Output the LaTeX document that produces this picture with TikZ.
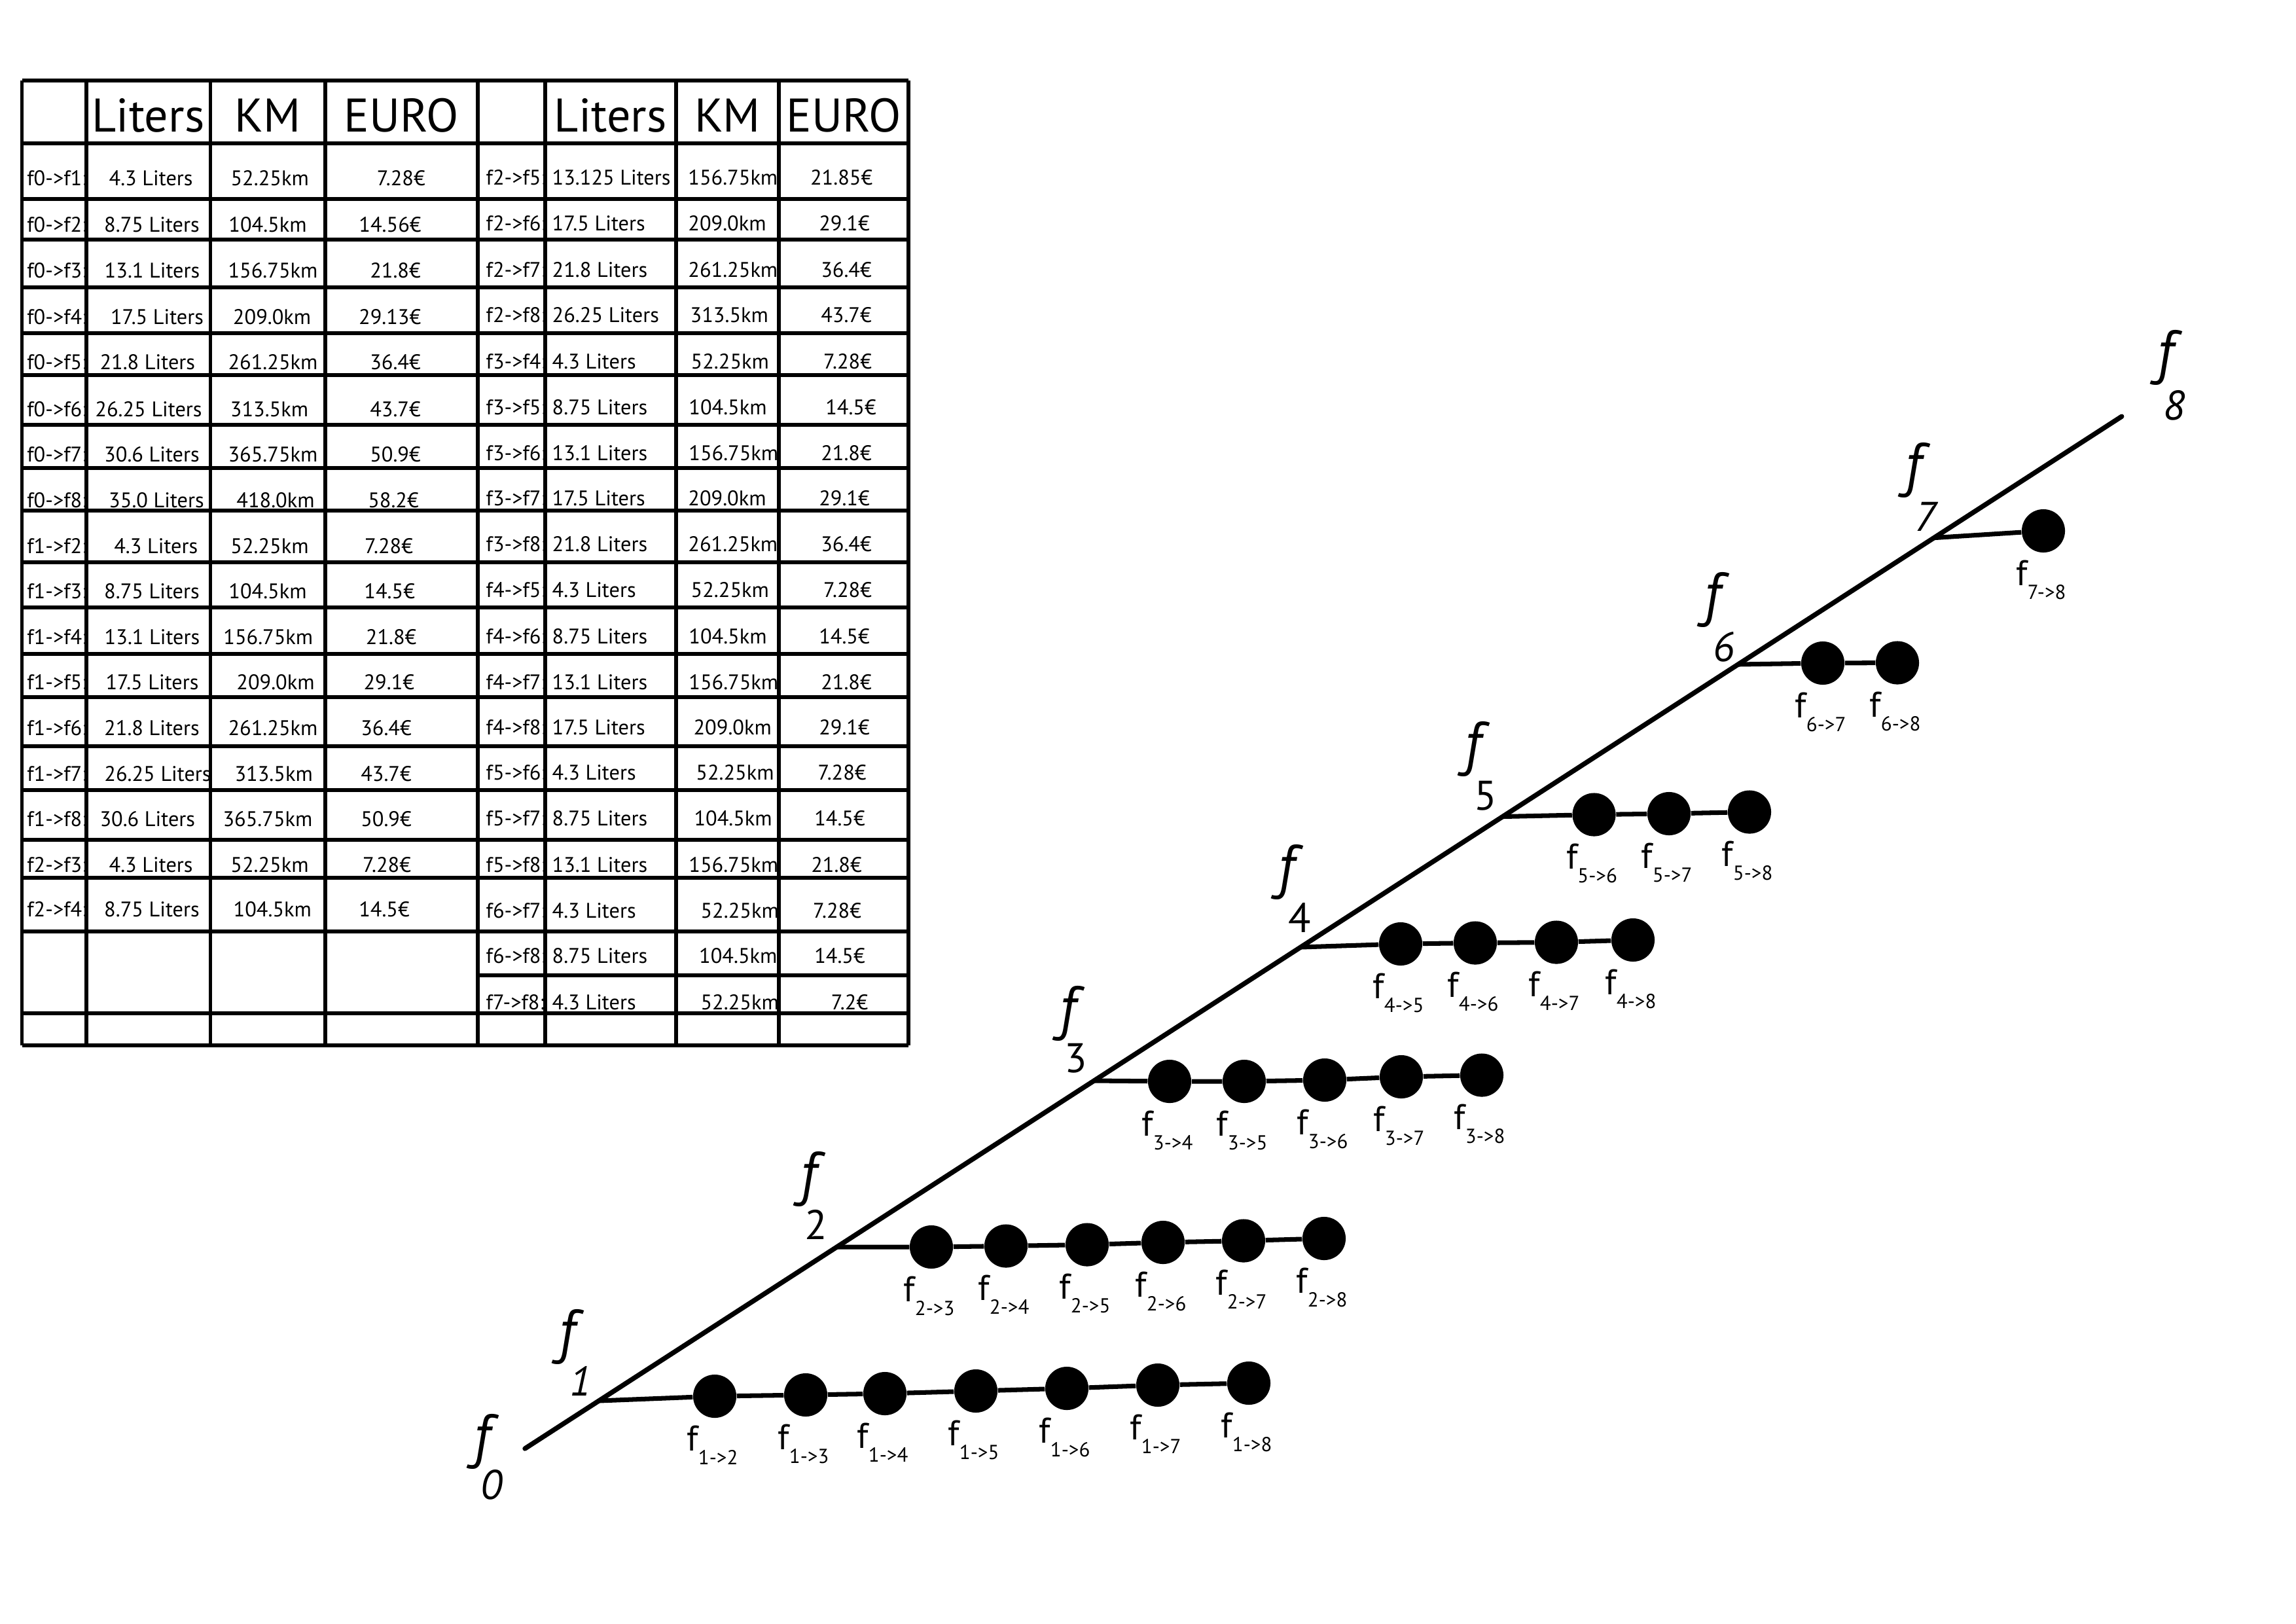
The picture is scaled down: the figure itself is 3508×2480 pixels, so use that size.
\documentclass[tikz,border=0pt]{standalone}
\usepackage{fontspec}
\setmainfont{PT Sans}
\tikzset{
  tline/.style={line width=1.7pt},
  mainline/.style={line width=2.1pt, line cap=round},
  branch/.style={line width=2pt},
  dot/.style={circle, fill=black, inner sep=0pt, minimum size=18.8pt},
  cellc/.style={anchor=base, inner sep=0pt, font=\fontsize{9.2}{9.2}\selectfont},
  celll/.style={anchor=base west, inner sep=0pt, font=\fontsize{9.2}{9.2}\selectfont},
  head/.style={anchor=base, inner sep=0pt, font=\fontsize{20.5}{20.5}\selectfont},
  sublab/.style={anchor=north, inner sep=0pt, font=\fontsize{15.5}{15.5}\selectfont},
  bigf/.style={anchor=north, text depth=0pt, inner sep=0pt, font=\fontsize{26}{26}\selectfont\itshape},
  bigsub/.style={anchor=north, inner sep=0pt, font=\fontsize{18}{18}\selectfont},
}
\newcommand\subx[1]{\raisebox{-6pt}{\fontsize{8.8}{8.8}\selectfont #1}}
\begin{document}
\begin{tikzpicture}[x=0.01cm, y=-0.01cm]
\useasboundingbox (0,0) rectangle (3508,2480);
% ---------- table headers ----------
\node[head] (h1) at (226.5,201) {Liters};
\node[head] (h2) at (409,201) {KM};
\node[head] (h3) at (613,201) {EURO};
\node[head] (h4) at (932.7,201) {Liters};
\node[head] (h5) at (1111.5,201) {KM};
\node[head] (h6) at (1289,201) {EURO};
% ---------- left half rows ----------
\foreach \n/\lab/\lit/\lx/\km/\kx/\eu/\ex/\by in {
 1/f0->f1/4.3 Liters/230.6/52.25km/412.2/7.28€/612.7/283.7,
 2/f0->f2/8.75 Liters/232/104.5km/409/14.56€/596/354,
 3/f0->f3/13.1 Liters/232.5/156.75km/417/21.8€/604/424,
 4/f0->f4/17.5 Liters/240/209.0km/415.6/29.13€/595.7/495.6,
 5/f0->f5/21.8 Liters/225.3/261.25km/417/36.4€/604/564,
 6/f0->f6/26.25 Liters/227/313.5km/411.5/43.7€/604/636,
 7/f0->f7/30.6 Liters/232/365.75km/417/50.9€/604/705,
 8/f0->f8/35.0 Liters/239/418.0km/421/58.2€/601/775,
 9/f1->f2/4.3 Liters/238.3/52.25km/412/7.28€/594/845,
 10/f1->f3/8.75 Liters/232/104.5km/409/14.5€/595.2/914.8,
 11/f1->f4/13.1 Liters/232.5/156.75km/409.8/21.8€/597.6/984,
 12/f1->f5/17.5 Liters/232.5/209.0km/421/29.1€/594.3/1053,
 13/f1->f6/21.8 Liters/232/261.25km/417/36.4€/590/1123,
 14/f1->f7/26.25 Liters/241/313.5km/418.2/43.7€/590/1193,
 15/f1->f8/30.6 Liters/225.3/365.75km/409/50.9€/590/1262,
 16/f2->f3/4.3 Liters/230.6/52.25km/412/7.28€/591/1332,
 17/f2->f4/8.75 Liters/232/104.5km/416.3/14.5€/587/1400.6}
{
  \node[celll] (la\n) at (40.7,\by) {\lab:};
  \node[cellc] (lb\n) at (\lx,\by) {\lit};
  \node[cellc] (lc\n) at (\kx,\by) {\km};
  \node[cellc] (ld\n) at (\ex,\by) {\eu};
}
% ---------- right half rows ----------
\foreach \n/\lab/\lit/\km/\kx/\eu/\ex/\by in {
 1/f2->f5/13.125 Liters/156.75km/1050.7/21.85€/1285.6/282.6,
 2/f2->f6/17.5 Liters/209.0km/1050.7/29.1€/1290/352.6,
 3/f2->f7/21.8 Liters/261.25km/1050.7/36.4€/1293/423,
 4/f2->f8/26.25 Liters/313.5km/1054/43.7€/1293/492.9,
 5/f3->f4/4.3 Liters/52.25km/1055/7.28€/1295/563,
 6/f3->f5/8.75 Liters/104.5km/1051.7/14.5€/1300/633,
 7/f3->f6/13.1 Liters/156.75km/1051.7/21.8€/1293/703,
 8/f3->f7/17.5 Liters/209.0km/1050.7/29.1€/1290/772.4,
 9/f3->f8/21.8 Liters/261.25km/1050.7/36.4€/1293/842,
 10/f4->f5/4.3 Liters/52.25km/1055/7.28€/1295/912.8,
 11/f4->f6/8.75 Liters/104.5km/1051.7/14.5€/1290/983.7,
 12/f4->f7/13.1 Liters/156.75km/1051.7/21.8€/1293/1053,
 13/f4->f8/17.5 Liters/209.0km/1058.9/29.1€/1290/1122,
 14/f5->f6/4.3 Liters/52.25km/1062.7/7.28€/1286.6/1191.8,
 15/f5->f7/8.75 Liters/104.5km/1059.8/14.5€/1283/1261.7,
 16/f5->f8/13.1 Liters/156.75km/1051.7/21.8€/1278/1332,
 17/f6->f7/4.3 Liters/52.25km/1069.9/7.28€/1279/1402.6,
 18/f6->f8/8.75 Liters/104.5km/1067.5/14.5€/1283/1471.4,
 19/f7->f8/4.3 Liters/52.25km/1069.9/7.2€/1298/1542}
{
  \node[celll] (ra\n) at (742,\by) {\lab:};
  \node[celll] (rb\n) at (843,\by) {\lit};
  \node[celll] (rc\n) at (\kx,\by) {\km};
  \node[cellc] (rd\n) at (\ex,\by) {\eu};
}
% ---------- table grid ----------
\foreach \x in {33.5,131.6,321.5,496.7,729.7,833,1032.5,1190.4,1387.6}
  \draw[tline] (\x,122.8) -- (\x,1596.5);
\foreach \y in {122.8,218.9,303.9,365.7,438.5,508.9,573.2,649.1,714.9,779.7,859.1,928.4,999.3,1065.1,1140,1206.8,1282.7,1340.9,1423.4,1548.4,1596.5}
  \draw[tline] (33.5,\y) -- (1387.6,\y);
\draw[tline] (729.7,1490.2) -- (1387.6,1490.2);
% ---------- main line ----------
\coordinate (s) at (802,2213);
\coordinate (e) at (3241.7,636.2);
\coordinate (j1) at (915,2140);
\coordinate (j2) at (1279,1905);
\coordinate (j3) at (1672,1651);
\coordinate (j4) at (1987,1447);
\coordinate (j5) at (2296,1247.5);
\coordinate (j6) at (2656,1015);
\coordinate (j7) at (2955,821.6);
\draw[mainline] (s) -- (e);
% ---------- dots ----------
\foreach \c/\x/\y in {c12/1092/2133, c13/1231/2131, c14/1352/2129, c15/1491/2125, c16/1630/2121, c17/1769/2116, c18/1908/2113,
  c23/1423/1905, c24/1537/1903.5, c25/1661/1901.5, c26/1777/1898, c27/1900/1895.5, c28/2023/1892,
  c34/1787/1652, c35/1901/1652, c36/2024/1650, c37/2141/1645, c38/2264/1642.5,
  c45/2140/1442, c46/2254/1440.5, c47/2378/1439.5, c48/2495/1436,
  c56/2435.5/1244.5, c57/2550/1243, c58/2673/1240.5,
  c67/2785/1013, c68/2899/1012.5,
  c78/3122/811}
  \node[dot] (\c) at (\x,\y) {};
% ---------- branches ----------
\draw[branch] (j1) -- (c12) -- (c13) -- (c14) -- (c15) -- (c16) -- (c17) -- (c18);
\draw[branch] (j2) -- (c23) -- (c24) -- (c25) -- (c26) -- (c27) -- (c28);
\draw[branch] (j3) -- (c34) -- (c35) -- (c36) -- (c37) -- (c38);
\draw[branch] (j4) -- (c45) -- (c46) -- (c47) -- (c48);
\draw[branch] (j5) -- (c56) -- (c57) -- (c58);
\draw[branch] (j6) -- (c67) -- (c68);
\draw[branch] (j7) -- (c78);
% ---------- dot labels ----------
\foreach \c/\t in {c12/1->2, c13/1->3, c14/1->4, c15/1->5, c16/1->6, c17/1->7, c18/1->8,
  c23/2->3, c24/2->4, c25/2->5, c26/2->6, c27/2->7, c28/2->8,
  c34/3->4, c35/3->5, c36/3->6, c37/3->7, c38/3->8,
  c45/4->5, c46/4->6, c47/4->7, c48/4->8,
  c56/5->6, c57/5->7, c58/5->8,
  c67/6->7, c68/6->8,
  c78/7->8}
  \node[sublab] (l\c) at ([xshift=-1pt,yshift=-12.5pt]\c.center) {f\subx{\t}};
% ---------- big labels ----------
\node[bigf] (F0) at (736.5,2160) {f};
\node[bigsub] (F0s) at (750.5,2245) {\itshape 0};
\node[bigf] (F1) at (866.5,2000) {f};
\node[bigsub] (F1s) at (886.5,2087) {\itshape 1};
\node[bigf] (F2) at (1235,1759) {f};
\node[bigsub] (F2s) at (1247,1848) {2};
\node[bigf] (F3) at (1631,1506) {f};
\node[bigsub] (F3s) at (1643.5,1593.5) {3};
\node[bigf] (F4) at (1965.5,1290) {f};
\node[bigsub] (F4s) at (1985.5,1379) {4};
\node[bigf] (F5) at (2250,1102) {f};
\node[bigsub] (F5s) at (2269.5,1192) {5};
\node[bigf] (F6) at (2616,873.5) {f};
\node[bigsub] (F6s) at (2633.5,964.5) {\itshape 6};
\node[bigf] (F7) at (2923,676) {f};
\node[bigsub] (F7s) at (2941.5,766) {\itshape 7};
\node[bigf] (F8) at (3308,504) {f};
\node[bigsub] (F8s) at (3322,596) {\itshape 8};
\end{tikzpicture}
\end{document}
